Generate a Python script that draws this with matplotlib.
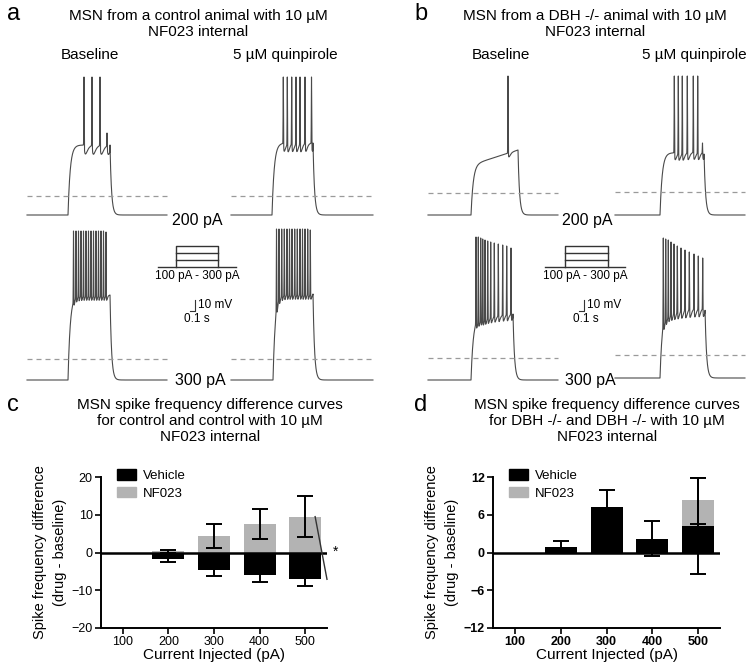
import numpy as np
import matplotlib.pyplot as plt
from matplotlib.patches import Patch

plt.rcParams['font.family'] = ['Liberation Sans', 'DejaVu Sans']

# ---- bar chart data (spike frequency difference, drug - baseline) ----
currents = ['100', '200', '300', '400', '500']
ctrl_vehicle = [-0.5, -1.8, -4.6, -6.0, -7.1]
ctrl_vehicle_err = [0.0, 0.7, 1.6, 1.8, 1.9]
ctrl_nf023 = [0.0, 0.3, 4.3, 7.5, 9.5]
ctrl_nf023_err = [0.0, 0.3, 3.2, 4.0, 5.5]
dbh_vehicle = [-0.1, 0.9, 7.2, 2.2, 4.2]
dbh_vehicle_err = [0.0, 0.9, 2.8, 2.8, 7.6]
dbh_nf023 = [0.0, 0.0, 0.0, 0.0, 8.3]
dbh_nf023_err = [0.0, 0.0, 0.0, 0.0, 3.7]

# ---- example traces (figure pixel units, y down) ----
# order: a-200 base, a-200 quin, a-300 base, a-300 quin, b-200 base, b-200 quin, b-300 base, b-300 quin
trace_start = [27, 231, 27, 231, 428, 615, 428, 615]
trace_end = [167, 373, 167, 373, 558, 745, 558, 745]
step_on = [68, 272, 68, 273, 471, 660, 471, 660]
step_off = [110, 313, 110, 313, 518, 704, 513, 705]
rest_y = [215, 215, 380, 380, 215, 215, 380, 378]
plateau_y0 = [145, 143, 295, 294, 165, 153, 318, 311]
plateau_y1 = [145, 143, 295, 294, 150, 152, 314, 308]
dash_y = [196, 196, 359, 359, 193, 192, 358, 355]
ahp_size = [9, 8, 5, 5, 4, 7, 6, 8]
ahp_tau = [1.5, 1.0, 0.6, 0.6, 1.0, 1.0, 0.8, 0.9]
spike_x = [
    [84, 92, 100, 107],
    [283.3, 287.3, 291.7, 296, 300, 305, 311.5],
    [73.5, 76, 78.5, 81, 83.5, 86, 88.5, 91, 93.5, 96, 98.5, 101, 103.5, 106],
    [276.5, 279, 281.7, 284.3, 287, 289.5, 292, 294.7, 297.3, 300, 302.5, 305, 307.7, 310.3],
    [508],
    [674.3, 678.3, 682.3, 687.3, 693.3, 697.7, 702.5],
    [476, 478.3, 480.7, 482.7, 485, 487.7, 490.7, 494.3, 498.3, 502.7, 506.7, 511],
    [663.3, 665.7, 668.3, 671, 674, 677.3, 681, 685, 689.3, 694, 698.3, 702.7],
]
spike_peak_y = [
    [77, 77, 77, 133],
    [77, 77, 77, 77, 77, 77, 77],
    [231, 231, 231, 231, 231, 231, 231, 231, 231, 231, 231, 231, 231, 232],
    [229, 229, 229, 229, 229, 229, 229, 229, 229, 229, 229, 229, 229, 230],
    [76],
    [76, 76, 76, 76, 76, 76, 143],
    [237, 237, 238, 239, 240, 241, 242, 243, 244, 245, 246, 248],
    [238, 239, 240, 242, 244, 246, 248, 250, 252, 254, 256, 258],
]


def make_trace(i):
    x = np.arange(trace_start[i], trace_end[i], 0.05)
    on, off, base = step_on[i], step_off[i], rest_y[i]
    h0, h1 = base - plateau_y0[i], base - plateau_y1[i]
    ramp = h0 + (h1 - h0) * np.clip((x - on) / (off - on), 0, 1)
    h = np.where(x < on, 0.0, ramp * (1 - np.exp(-np.clip(x - on, 0, None) / 2.2)))
    after = x >= off
    h[after] = h1 * np.exp(-(x[after] - off) / 1.5)
    for s, py in zip(spike_x[i], spike_peak_y[i]):
        local = np.interp(s, x, h)
        h = h + (base - py - local) * np.exp(-((x - s) / 0.25) ** 2)
        d = np.clip(x - s, 0, None)
        h = h - ahp_size[i] * (d / ahp_tau[i]) * np.exp(1 - d / ahp_tau[i]) * (x < off)
    return x, base - h


fig = plt.figure(figsize=(7.51, 6.68), dpi=100)
ov = fig.add_axes([0, 0, 1, 1])
ov.set_xlim(0, 751)
ov.set_ylim(668, 0)
ov.axis('off')

trace_col = '#4a4a4a'
for i in range(len(trace_start)):
    tx, ty = make_trace(i)
    ov.plot(tx, ty, color=trace_col, lw=0.8)
    ov.plot([trace_start[i], trace_end[i]], [dash_y[i], dash_y[i]],
            color='#9a9a9a', lw=0.9, dashes=(4, 3.2))

# panel titles for the traces
ov.text(14, 14, 'a', fontsize=17, ha='center', va='center')
ov.text(421, 14, 'b', fontsize=17, ha='center', va='center')
ov.text(198, 24, 'MSN from a control animal with 10 µM\nNF023 internal',
        fontsize=11, ha='center', va='center', linespacing=1.15)
ov.text(595, 24, 'MSN from a DBH -/- animal with 10 µM\nNF023 internal',
        fontsize=11, ha='center', va='center', linespacing=1.15)
for xc in [90, 501]:
    ov.text(xc, 55, 'Baseline', fontsize=11, ha='center', va='center')
for xc in [285, 694]:
    ov.text(xc, 55, '5 µM quinpirole', fontsize=11, ha='center', va='center')
for xc in [197, 587]:
    ov.text(xc, 220, '200 pA', fontsize=11.5, ha='center', va='center')
    ov.text(xc + 3, 381, '300 pA', fontsize=11.5, ha='center', va='center')

# current step protocol and scale bars
proto_x0 = [158, 545]
proto_x1 = [236, 625]
box_x0 = [176, 565]
box_x1 = [218, 608]
for j in range(2):
    ov.plot([proto_x0[j], proto_x1[j]], [267, 267], color='#333333', lw=1.0)
    ov.plot([box_x0[j], box_x0[j], box_x1[j], box_x1[j]], [267, 246, 246, 267],
            color='#333333', lw=1.0)
    for yy in [253, 260]:
        ov.plot([box_x0[j], box_x1[j]], [yy, yy], color='#333333', lw=1.0)
    xm = (proto_x0[j] + proto_x1[j]) / 2
    ov.text(xm, 276, '100 pA - 300 pA', fontsize=8.5, ha='center', va='center')
sb_x = [195, 584]
for xs in sb_x:
    ov.plot([xs - 5, xs, xs], [311, 311, 300], color='#333333', lw=0.8)
    ov.text(xs + 3, 305, '10 mV', fontsize=8.5, ha='left', va='center')
    ov.text(xs - 11, 319, '0.1 s', fontsize=8.5, ha='left', va='center')

# ---- bar panels ----
ov.text(13, 405, 'c', fontsize=17, ha='center', va='center')
ov.text(421, 405, 'd', fontsize=17, ha='center', va='center')
ov.text(210, 421, 'MSN spike frequency difference curves\nfor control and control with 10 µM\nNF023 internal',
        fontsize=11, ha='center', va='center', linespacing=1.18)
ov.text(607, 421, 'MSN spike frequency difference curves\nfor DBH -/- and DBH -/- with 10 µM\nNF023 internal',
        fontsize=11, ha='center', va='center', linespacing=1.18)

grey = '#b3b3b3'


def bar_panel(rect, veh, veh_err, nf, nf_err, lim, ticks, bold):
    ax = fig.add_axes(rect)
    idx = np.arange(len(currents))
    ax.bar(idx, nf, width=0.7, color=grey, zorder=2)
    ax.bar(idx, veh, width=0.7, color='black', zorder=3)
    for vals, errs in [(nf, nf_err), (veh, veh_err)]:
        v = np.array(vals)
        e = np.array(errs)
        m = e > 0
        ax.errorbar(idx[m], v[m], yerr=e[m], fmt='none', ecolor='black',
                    elinewidth=1.4, capsize=5.5, capthick=1.4, zorder=4)
    ax.axhline(0, color='black', lw=1.8, zorder=5)
    ax.set_xlim(-0.48, 4.48)
    ax.set_ylim(-lim, lim)
    ax.set_yticks(ticks)
    ax.set_xticks(idx)
    ax.set_xticklabels(currents)
    ax.spines['top'].set_visible(False)
    ax.spines['right'].set_visible(False)
    ax.spines['left'].set_linewidth(1.4)
    ax.spines['bottom'].set_linewidth(1.4)
    ax.tick_params(length=4, width=1.2, labelsize=9, pad=2)
    if bold:
        for lab in ax.get_xticklabels() + ax.get_yticklabels():
            lab.set_fontweight('bold')
    ax.set_ylabel('Spike frequency difference\n(drug - baseline)', fontsize=10.5,
                  linespacing=1.6, labelpad=3)
    ax.set_xlabel('Current Injected (pA)', fontsize=11, labelpad=0)
    handles = [Patch(color='black', label='Vehicle'), Patch(color=grey, label='NF023')]
    ax.legend(handles=handles, loc='upper left', bbox_to_anchor=(0.07, 1.05),
              frameon=False, fontsize=9.5, handlelength=1.45, handleheight=0.85,
              handletextpad=0.55, labelspacing=0.35, borderpad=0, borderaxespad=0)
    return ax


axc = bar_panel([0.1345, 0.0599, 0.3009, 0.226], ctrl_vehicle, ctrl_vehicle_err,
                ctrl_nf023, ctrl_nf023_err, 20, [-20, -10, 0, 10, 20], False)
axd = bar_panel([0.6565, 0.0599, 0.3023, 0.226], dbh_vehicle, dbh_vehicle_err,
                dbh_nf023, dbh_nf023_err, 12, [-12, -6, 0, 6, 12], True)

# significance mark on panel c
axc.plot([4.22, 4.48], [ctrl_nf023[4], ctrl_vehicle[4]], color='#333333', lw=1.0,
         clip_on=False, zorder=6)
axc.text(4.66, 0.3, '*', fontsize=10, ha='center', va='center')

fig.savefig('out.png', dpi=100)
